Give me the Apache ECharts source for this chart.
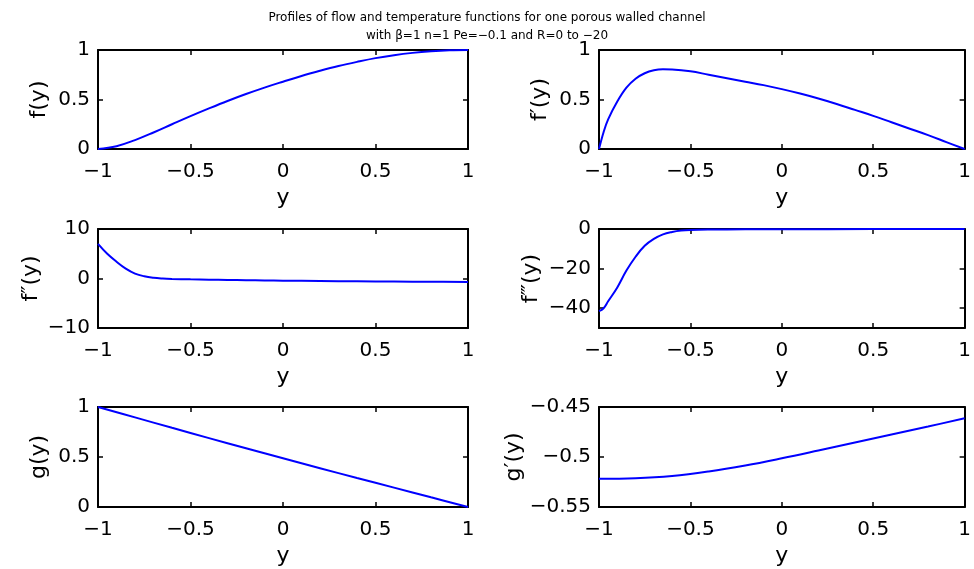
<!DOCTYPE html>
<html>
<head>
<meta charset="utf-8">
<script src="https://cdn.jsdelivr.net/npm/echarts@6/dist/echarts.min.js"></script>
<style>
  html, body { margin: 0; padding: 0; background: #fff; }
  #chart { width: 974px; height: 569px; }
</style>
</head>
<body>
<div id="chart"></div>
<script>
// values
const titleText = 'Profiles of flow and temperature functions for one porous walled channel\nwith \u03b2=1 n=1 Pe=\u22120.1 and R=0 to \u221220';
const xTicks = [-1, -0.5, 0, 0.5, 1];

const fX = [-1, -0.9, -0.8, -0.7, -0.6, -0.5, -0.4, -0.3, -0.2, -0.1, 0, 0.1, 0.2, 0.3, 0.4, 0.5, 0.6, 0.7, 0.8, 0.9, 1];
const fV = [0, 0.028, 0.09, 0.167, 0.25, 0.332, 0.41, 0.485, 0.555, 0.62, 0.68, 0.738, 0.79, 0.838, 0.88, 0.918, 0.948, 0.971, 0.987, 0.997, 1];

const f1X = [-1, -0.975, -0.95, -0.9, -0.85, -0.8, -0.75, -0.7, -0.65, -0.6, -0.5, -0.4, -0.3, -0.2, -0.1, 0, 0.1, 0.2, 0.3, 0.4, 0.5, 0.6, 0.7, 0.8, 0.9, 1];
const f1V = [0, 0.17, 0.3, 0.48, 0.62, 0.71, 0.765, 0.795, 0.805, 0.803, 0.785, 0.75, 0.715, 0.68, 0.645, 0.605, 0.56, 0.51, 0.455, 0.395, 0.335, 0.27, 0.205, 0.14, 0.07, 0];

const f2X = [-1, -0.95, -0.9, -0.85, -0.8, -0.75, -0.7, -0.65, -0.6, -0.5, -0.4, -0.3, -0.2, -0.1, 0, 0.2, 0.4, 0.6, 0.8, 1];
const f2V = [7.0, 5.0, 3.4, 2.0, 1.0, 0.45, 0.15, 0.0, -0.08, -0.17, -0.23, -0.28, -0.33, -0.38, -0.43, -0.5, -0.56, -0.61, -0.66, -0.7];

const f3X = [-1, -0.975, -0.95, -0.9, -0.85, -0.8, -0.75, -0.7, -0.65, -0.6, -0.55, -0.5, -0.4, -0.2, 0, 0.5, 1];
const f3V = [-41.5, -40, -36.5, -29.5, -21, -14, -8.5, -5, -2.7, -1.5, -0.8, -0.5, -0.3, -0.15, -0.1, -0.05, 0];

const gX = [-1, -0.8, -0.6, -0.4, -0.2, 0, 0.2, 0.4, 0.6, 0.8, 1];
const gV = [1, 0.896, 0.792, 0.689, 0.587, 0.487, 0.388, 0.29, 0.194, 0.097, 0];

const g1X = [-1, -0.8, -0.6, -0.4, -0.2, 0, 0.2, 0.4, 0.6, 0.8, 1];
const g1V = [-0.5217, -0.5212, -0.519, -0.5145, -0.5085, -0.5013, -0.4935, -0.4855, -0.4775, -0.4695, -0.4613];

const panels = [
  { name: 'f(y)', x: fX, v: fV, min: 0, max: 1, ticks: [0, 0.5, 1], gap: 48 },
  { name: 'f\u2032(y)', x: f1X, v: f1V, min: 0, max: 1, ticks: [0, 0.5, 1], gap: 48 },
  { name: 'f\u2033(y)', x: f2X, v: f2V, min: -10, max: 10, ticks: [-10, 0, 10], gap: 56 },
  { name: 'f\u2034(y)', x: f3X, v: f3V, min: -50, max: 0, ticks: [-40, -20, 0], gap: 57 },
  { name: 'g(y)', x: gX, v: gV, min: 0, max: 1, ticks: [0, 0.5, 1], gap: 48 },
  { name: 'g\u2032(y)', x: g1X, v: g1V, min: -0.55, max: -0.45, ticks: [-0.55, -0.5, -0.45], gap: 74 }
];

const font = "'DejaVu Sans', sans-serif";
const fmt = (v) => {
  const r = Math.round(v * 100) / 100;
  return String(r).replace('-', '\u2212');
};

const myChart = echarts.init(document.getElementById('chart'));

const grids = [], xAxes = [], yAxes = [], series = [];
const rowTop = [50, 229, 407];
const rowH = [99, 99, 100];

panels.forEach((p, i) => {
  const col = i % 2, row = Math.floor(i / 2);
  grids.push({ left: col ? 599 : 98, top: rowTop[row], width: 370, height: rowH[row] });

  const axisLine = { show: true, onZero: false, lineStyle: { color: '#000', width: 2 } };
  const tick = { show: true, inside: true, length: 5, lineStyle: { color: '#000', width: 1.5 } };

  xAxes.push({
    type: 'value', gridIndex: i, min: -1, max: 1, interval: 0.5, position: 'bottom',
    axisLine: axisLine, axisTick: tick, splitLine: { show: false },
    axisLabel: { margin: 13, fontSize: 20, color: '#000', fontFamily: font, formatter: fmt },
    name: 'y', nameLocation: 'middle', nameGap: 38,
    nameTextStyle: { fontSize: 22, color: '#000', fontFamily: font }
  });
  xAxes.push({
    type: 'value', gridIndex: i, min: -1, max: 1, interval: 0.5, position: 'top',
    axisLine: axisLine, axisTick: tick, splitLine: { show: false }, axisLabel: { show: false }
  });
  yAxes.push({
    type: 'value', gridIndex: i, min: p.min, max: p.max, position: 'left',
    axisLine: axisLine, axisTick: Object.assign({ customValues: p.ticks }, tick), splitLine: { show: false },
    axisLabel: { customValues: p.ticks, margin: 8, fontSize: 20, color: '#000', fontFamily: font, formatter: fmt },
    name: p.name, nameLocation: 'middle', nameGap: p.gap,
    nameTextStyle: { fontSize: 22, color: '#000', fontFamily: font }
  });
  yAxes.push({
    type: 'value', gridIndex: i, min: p.min, max: p.max, position: 'right',
    axisLine: axisLine, axisTick: Object.assign({ customValues: p.ticks }, tick), splitLine: { show: false },
    axisLabel: { show: false }
  });

  series.push({
    type: 'line', xAxisIndex: 2 * i, yAxisIndex: 2 * i,
    data: p.x.map((x, k) => [x, p.v[k]]),
    showSymbol: false, smooth: 0.4,
    lineStyle: { color: '#0000ff', width: 2 }
  });
});

myChart.setOption({
  animation: false,
  backgroundColor: '#fff',
  title: {
    text: titleText, left: 'center', top: 4,
    textStyle: { fontSize: 12, fontWeight: 'normal', color: '#000', fontFamily: font, lineHeight: 18 }
  },
  grid: grids,
  xAxis: xAxes,
  yAxis: yAxes,
  series: series
});
</script>
</body>
</html>
